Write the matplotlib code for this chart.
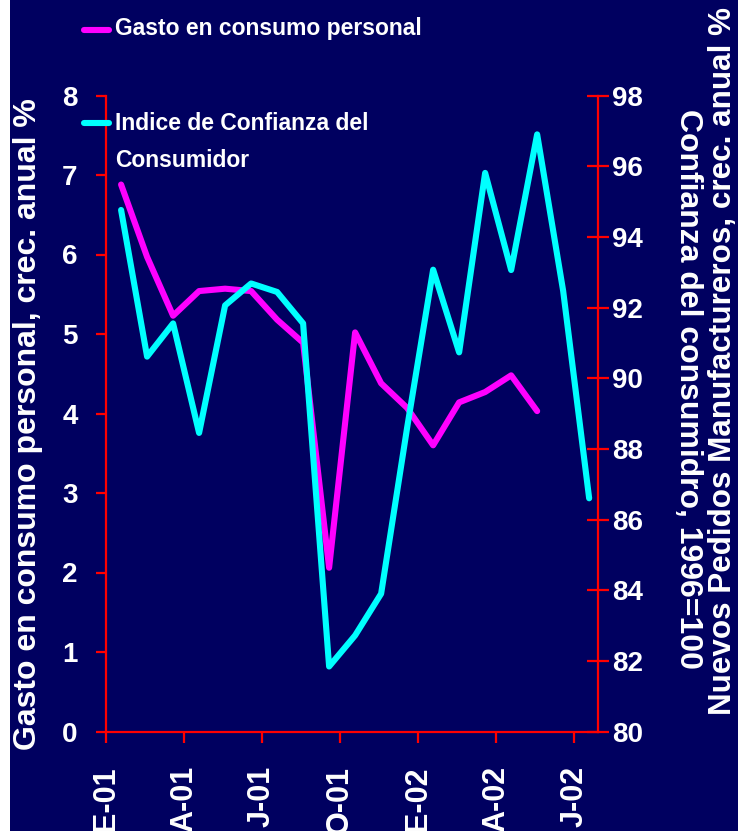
import numpy as np
import matplotlib.pyplot as plt
from matplotlib import font_manager
from matplotlib.lines import Line2D
from matplotlib.patches import Rectangle

# %%
# monthly data, Jan-01 onwards
tick_labels = ["E-01", "A-01", "J-01", "O-01", "E-02", "A-02", "J-02"]
gasto = [6.88, 5.97, 5.23, 5.54, 5.57, 5.54, 5.18, 4.89, 2.06,
         5.02, 4.38, 4.07, 3.60, 4.14, 4.27, 4.48, 4.03]
confianza = [94.76, 90.61, 91.55, 88.45, 92.06, 92.68, 92.44, 91.55, 81.84,
             82.72, 83.90, 88.60, 93.07, 90.73, 95.81, 93.06, 96.90, 92.47, 86.60]

# %%
navy = "#000060"
red = "#ff0000"
font = ["Liberation Sans", "DejaVu Sans"]

# legend text is a narrow face in the original
names = {f.name for f in font_manager.fontManager.ttflist}
if "Liberation Sans Narrow" in names:
    legend_font, legend_size = ["Liberation Sans Narrow"], 20
else:
    legend_font, legend_size = font, 16.5

fig = plt.figure(figsize=(7.38, 8.31), dpi=100, facecolor="white")
fig.add_artist(Rectangle((10 / 738, 0), 1, 1, transform=fig.transFigure,
                         facecolor=navy, edgecolor="none", zorder=-10))

ax = fig.add_axes([106 / 738, 1 - 731.5 / 831, 492 / 738, 636 / 831])
ax2 = ax.twinx()
ax.set_facecolor("none")
ax2.set_facecolor("none")

x_g = np.arange(len(gasto)) + 0.58
x_c = np.arange(len(confianza)) + 0.58
ax.plot(x_g, gasto, color="#ff00ff", lw=4.4, solid_capstyle="round",
        solid_joinstyle="round", zorder=3)
ax2.plot(x_c, confianza, color="#00ffff", lw=4.4, solid_capstyle="round",
         solid_joinstyle="round", zorder=3)

ax.set_xlim(0, 18.92)
ax.set_ylim(0, 8)
ax2.set_ylim(80, 98)
ax.set_yticks(range(0, 9))
ax2.set_yticks(range(80, 99, 2))
ax.set_xticks(np.arange(len(tick_labels)) * 3)
ax.set_xticklabels(tick_labels, rotation=90, va="top", ha="center")

for a in (ax, ax2):
    for s in a.spines.values():
        s.set_visible(False)
    for lab in a.get_yticklabels() + a.get_xticklabels():
        lab.set_fontweight("bold")
        lab.set_family(font)
ax.spines["left"].set_visible(True)
ax.spines["bottom"].set_visible(True)
ax2.spines["right"].set_visible(True)
for s in (ax.spines["left"], ax.spines["bottom"], ax2.spines["right"]):
    s.set_color(red)
    s.set_linewidth(1.6)

ax.tick_params(axis="y", direction="out", length=7.5, width=1.6, color=red,
               labelcolor="white", labelsize=20, pad=13)
ax.tick_params(axis="x", direction="out", length=8, width=1.6, color=red,
               labelcolor="white", labelsize=22, pad=17)
ax2.tick_params(axis="y", direction="inout", length=16, width=1.6, color=red,
                labelcolor="white", labelsize=20, pad=2)

# axis titles
fig.text(28 / 738, 1 - 424 / 831, "Gasto en consumo personal, crec. anual %",
         rotation=90, ha="center", va="center", color="white", fontsize=23,
         fontweight="bold", family=font)
fig.text(688 / 738, 1 - 389 / 831, "Confianza del consumidro, 1996=100",
         rotation=270, ha="center", va="center", color="white", fontsize=23,
         fontweight="bold", family=font)
fig.text(723 / 738, 1 - 361 / 831, "Nuevos Pedidos Manufactureros, crec. anual %",
         rotation=90, ha="center", va="center", color="white", fontsize=22.6,
         fontweight="bold", family=font)

# legend
for y, col in ((30, "#ff00ff"), (123, "#00ffff")):
    fig.add_artist(Line2D([84 / 738, 109 / 738], [1 - y / 831, 1 - y / 831],
                          transform=fig.transFigure, color=col, lw=4.4,
                          solid_capstyle="round"))
fig.text(115 / 738, 1 - 35 / 831, "Gasto en consumo personal", color="white",
         fontsize=legend_size, fontweight="bold", family=legend_font,
         va="baseline")
fig.text(115 / 738, 1 - 167 / 831, "Indice de Confianza del\nConsumidor",
         color="white", fontsize=legend_size, fontweight="bold",
         family=legend_font, va="baseline", linespacing=1.78)

fig.savefig("out.png", dpi=100, facecolor=fig.get_facecolor())
